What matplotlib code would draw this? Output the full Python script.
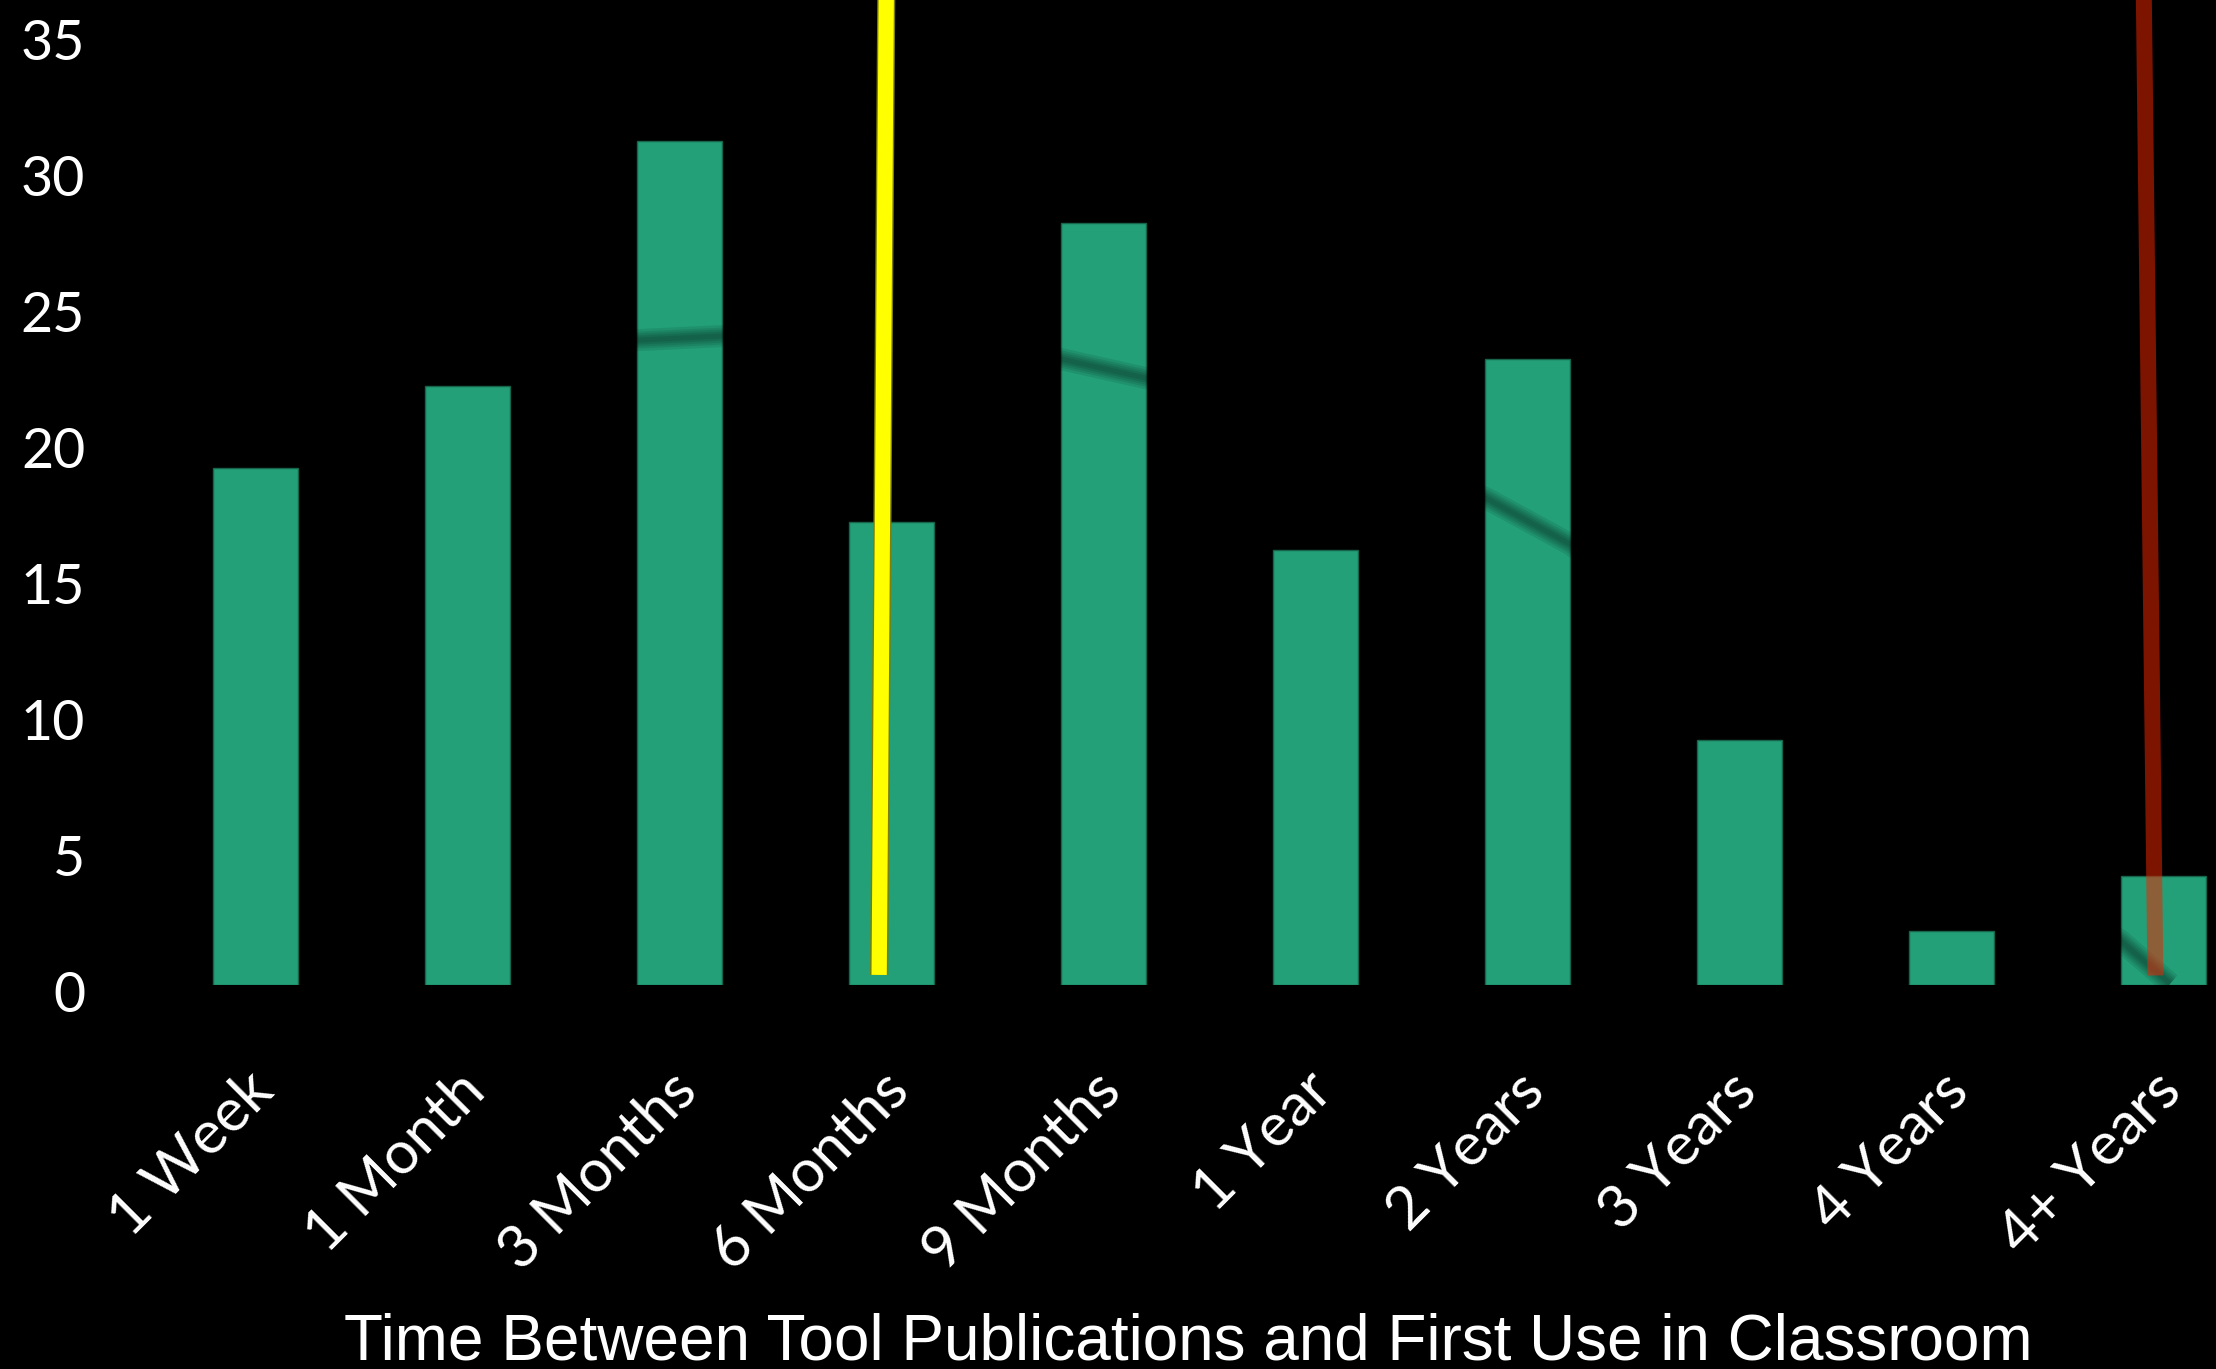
import matplotlib
matplotlib.use("Agg")
import matplotlib.pyplot as plt
import matplotlib.patheffects as pe
from matplotlib.transforms import ScaledTranslation

# survey counts per delay bucket
categories = ["1 Week", "1 Month", "3 Months", "6 Months", "9 Months",
              "1 Year", "2 Years", "3 Years", "4 Years", "4+ Years"]
counts = [19, 22, 31, 17, 28, 16, 23, 9, 2, 4]

# soft trend curve running over the bars (category index, value)
trend_x = [1.5, 1.8, 2.2, 3.0, 3.8, 4.2, 5.0, 5.8, 6.2, 7.0, 8.0, 8.8, 9.03]
trend_y = [23.4, 23.7, 23.85, 23.9, 23.0, 22.3, 20.5, 17.9, 16.2, 11.5, 5.8, 1.6, 0.05]

# two marker strokes (category index, value)
yellow_x = [2.94, 2.977]
yellow_y = [0.37, 40]
red_x = [8.96, 8.90]
red_y = [0.35, 40]

yticks = [0, 5, 10, 15, 20, 25, 30, 35]
xlabel = "Time Between Tool Publications and First Use in Classroom"

W, H = 2216, 1369
fig = plt.figure(figsize=(W / 100, H / 100), dpi=100, facecolor="black")
ax = fig.add_axes([106 / W, (H - 985) / H, 1 - 106 / W, 985 / H])
ax.set_facecolor("black")

pos = list(range(len(categories)))
ax.bar(pos, counts, width=0.4, color="#23A078", edgecolor="#17644b",
       linewidth=1, zorder=2)

# blurred dark stroke: stacked translucent layers
for lw_px in [22, 17, 13, 9, 5]:
    ax.plot(trend_x, trend_y, color="black", alpha=0.09,
            lw=lw_px * 0.72, solid_capstyle="butt", zorder=3)

ax.plot(yellow_x, yellow_y, color="#FFFF00", lw=11, solid_capstyle="butt",
        zorder=4, path_effects=[pe.Stroke(linewidth=13, foreground="#7d7d00"),
                                pe.Normal()])
ax.plot(red_x, red_y, color="#EC2600", alpha=0.53, lw=11.5,
        solid_capstyle="butt", zorder=4)

ax.set_xlim(-0.707, 9.246)
ax.set_ylim(0, 36.2)

ax.set_yticks(yticks)
ax.set_yticklabels([str(v) for v in yticks], fontfamily="Lato",
                   fontsize=40, color="white")
ax.tick_params(axis="y", length=0, pad=15)
for lab in ax.get_yticklabels():
    lab.set_transform(lab.get_transform() +
                      ScaledTranslation(0, -7 / 100, fig.dpi_scale_trans))

ax.set_xticks(pos)
ax.set_xticklabels(categories, fontfamily="Lato", fontsize=43, color="white",
                   rotation=45, ha="right", va="center",
                   rotation_mode="anchor")
ax.tick_params(axis="x", length=0, pad=0)
for lab in ax.get_xticklabels():
    lab.set_transform(lab.get_transform() +
                      ScaledTranslation(8 / 100, -97 / 100, fig.dpi_scale_trans))

for s in ax.spines.values():
    s.set_visible(False)

fig.text(1188 / W, 9 / H, xlabel, ha="center", va="baseline",
         fontfamily="Liberation Sans", fontsize=46, color="white")

fig.savefig("out.png", dpi=100, facecolor="black")
